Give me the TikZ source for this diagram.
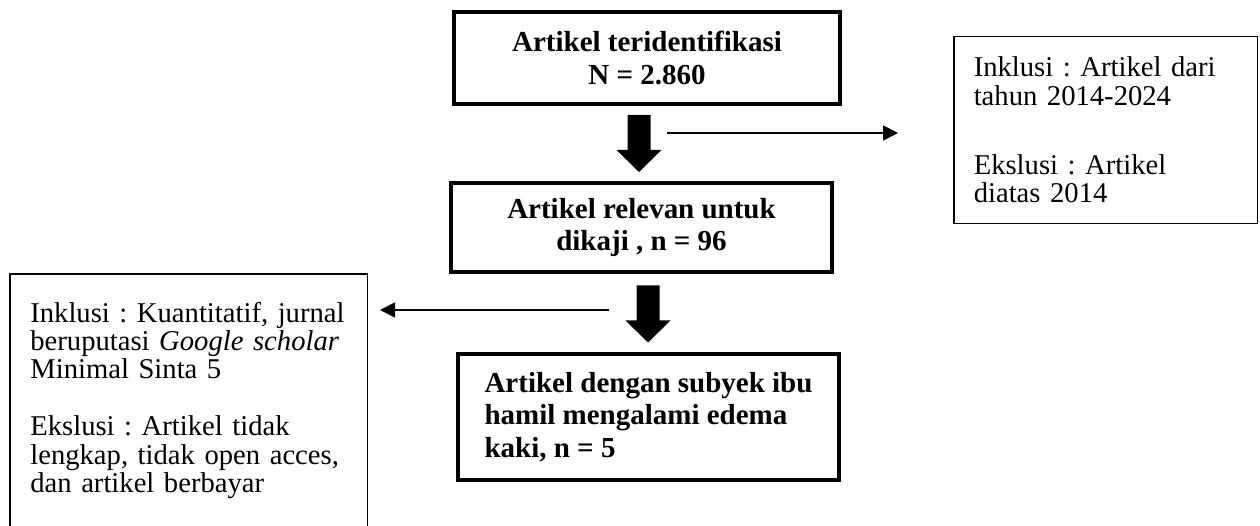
\documentclass[tikz,border=0pt]{standalone}
\usepackage{fontspec}
\setmainfont{Liberation Serif}
\usetikzlibrary{arrows.meta}
\frenchspacing
\hyphenpenalty=10000
\exhyphenpenalty=10000

\begin{document}
\begin{tikzpicture}[
        mainbox/.style={draw, line width=2.3pt, inner sep=0pt, minimum width=7.62cm,
            font=\fontsize{16.5}{18.5}\selectfont\bfseries},
        notebox/.style={align=left, font=\fontsize{16.3}{16.2}\selectfont},
        noteframe/.style={line width=0.85pt},
        thinarrow/.style={line width=1pt, -{Triangle[length=0.3cm,width=0.3cm]}},
        bigarrow/.pic={
            \fill (-0.23,0.57) -- (0.23,0.57) -- (0.23,-0.13) -- (0.45,-0.13)
                -- (0,-0.57) -- (-0.45,-0.13) -- (-0.23,-0.13) -- cycle;
        }
    ]

            \useasboundingbox (0,0) rectangle (25.2,10.52);
            \clip (0,0) rectangle (25.2,10.52);

            % main flow
            \node[mainbox, minimum width=7.72cm, minimum height=1.84cm, align=center] (ident) at (12.94,9.36) {Artikel teridentifikasi\\N = 2.860};
            \node[mainbox, minimum height=1.78cm, align=center] (relevan) at (12.83,5.97) {Artikel relevan untuk\\dikaji , n = 96};
            \node[mainbox, minimum height=2.52cm, align=left] (subyek) at (12.97,2.18) {Artikel dengan subyek ibu\\hamil mengalami edema\\kaki, n = 5};

            \pic (arrA) at (12.78,7.65) {bigarrow};
            \pic (arrB) at (12.96,4.24) {bigarrow};

            % criteria
            \node[notebox, draw, noteframe, text width=5.27cm, inner xsep=0.40cm, inner ysep=0.41cm] (kriteria1) at (22.11,7.92) {Inklusi : Artikel dari\\tahun 2014-2024\\[23pt]Ekslusi : Artikel\\diatas 2014};
            \node[notebox, text width=6.34cm, inner xsep=0.40cm, inner ysep=0.55cm, anchor=north west] (kriteria2) at (0.20,5.04) {Inklusi : Kuantitatif, jurnal\\beruputasi \textit{Google scholar}\\Minimal Sinta 5\\[16.2pt]Ekslusi : Artikel tidak\\lengkap, tidak open acces,\\dan artikel berbayar};
            \draw[noteframe] (kriteria2.north west) ++(0,-6) -- (kriteria2.north west) -- (kriteria2.north east) -- ++(0,-6);

            \coordinate (r0) at (13.34,7.86); \coordinate (r1) at (17.96,7.86);
            \coordinate (l0) at (12.18,4.32); \coordinate (l1) at (7.60,4.32);
            \draw[thinarrow] (r0) -- (r1);
            \draw[thinarrow] (l0) -- (l1);
        \end{tikzpicture}
\end{document}
